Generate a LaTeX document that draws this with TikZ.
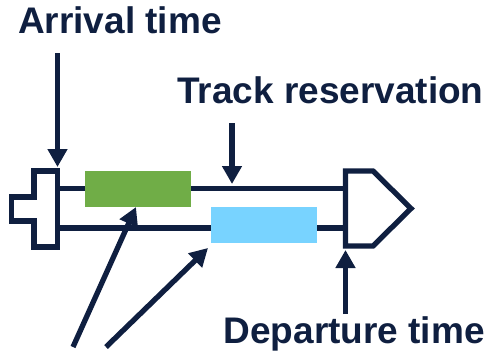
\documentclass[tikz,border=0pt]{standalone}
\usepackage{fontspec}
\setmainfont{Liberation Sans}
\usepackage{xcolor}
\usetikzlibrary{calc}
\usetikzlibrary{arrows.meta}
\usepackage{tikz}

\definecolor{navy}{HTML}{0F1F40}
\definecolor{slotgreen}{HTML}{70AD47}
\definecolor{slotblue}{HTML}{78D3FF}

\tikzset{
  lbl/.style={inner sep=0pt,anchor=base west,text=navy,font=\fontsize{37}{41}\selectfont\bfseries},
  track/.style={draw=navy,line width=5.3pt},
  pointer/.style={draw=navy,line width=5.3pt,-{Triangle[length=18pt,width=19pt]}},
}

\begin{document}
\begin{tikzpicture}[x=1pt,y=-1pt]
  \useasboundingbox (0,0) rectangle (493,356);

  % labels
  \node [lbl] (arrival) at (18,33) {Arrival time};
  \node [lbl] (reserve) at (177,103) {Track reservation};
  \node [lbl,anchor=base east] (depart) at (485,343) {Departure time};

  % rails
  \draw [track] (57.5,188.5) -- (345.5,188.5);
  \draw [track] (57.5,228) -- (345.5,228);

  % buffer stop and platform end
  \draw [track,line join=miter] (34,171) -- (57.5,171) -- (57.5,247) -- (34,247) -- (34,221)
  -- (11.5,221) -- (11.5,197) -- (34,197) -- cycle;
  \draw [track,line join=miter] (345.5,171) -- (373,171) -- (411,208.5) -- (373,246) -- (345.5,246) -- cycle;

  % reserved slots
  \fill [slotgreen] (85,171) rectangle (191,207);
  \fill [slotblue] (211,207) rectangle (317,243);

  % pointers
  \coordinate (arrivaltop) at (57.5,53);
  \coordinate (arrivaltip) at (57.5,167);
  \coordinate (reservetop) at (232,123);
  \coordinate (reservetip) at (232,184);
  \coordinate (departtail) at (345.5,314);
  \coordinate (departtip) at (345.5,250);
  \coordinate (greentail) at (73,347);
  \coordinate (greentip) at (136,207);
  \coordinate (bluetail) at (106,347);
  \coordinate (bluetip) at (208,248);

  \draw [pointer] (arrivaltop) -- (arrivaltip);
  \draw [pointer] (reservetop) -- (reservetip);
  \draw [pointer] (departtail) -- (departtip);
  \draw [pointer] (greentail) -- (greentip);
  \draw [pointer] (bluetail) -- (bluetip);

\end{tikzpicture}
\end{document}
